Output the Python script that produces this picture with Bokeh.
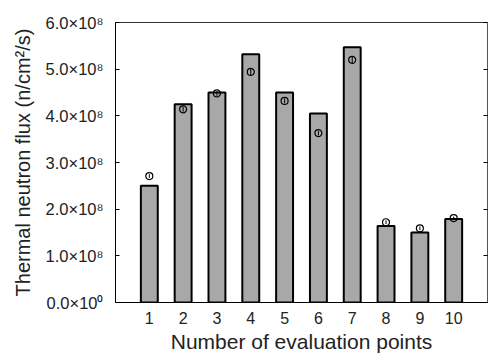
from bokeh.plotting import figure
from bokeh.models import FixedTicker, LinearAxis, Range1d
from bokeh.embed import file_html
from bokeh.resources import INLINE

# ---- data ----
points = [1, 2, 3, 4, 5, 6, 7, 8, 9, 10]
simulated = [2.50e8, 4.25e8, 4.50e8, 5.32e8, 4.50e8, 4.05e8, 5.47e8, 1.64e8, 1.50e8, 1.79e8]
measured = [2.71e8, 4.14e8, 4.48e8, 4.94e8, 4.32e8, 3.63e8, 5.20e8, 1.72e8, 1.59e8, 1.81e8]
measured_err = [0.04e8, 0.05e8, 0.05e8, 0.07e8, 0.05e8, 0.05e8, 0.07e8, 0.04e8, 0.04e8, 0.03e8]
y_ticks = [0, 1e8, 2e8, 3e8, 4e8, 5e8, 6e8]
y_tick_labels = ["0.0×10⁰", "1.0×10⁸", "2.0×10⁸", "3.0×10⁸", "4.0×10⁸", "5.0×10⁸", "6.0×10⁸"]

FONT = "Liberation Sans"

p = figure(width=488, height=356, output_backend="svg", toolbar_location=None,
           x_range=Range1d(0, 11), y_range=Range1d(0, 6e8))
p.min_border_left = 115
p.min_border_right = 1
p.min_border_top = 22
p.min_border_bottom = 54
p.grid.visible = False
p.outline_line_color = "#333333"
p.outline_line_width = 1
p.background_fill_color = "white"
p.border_fill_color = "white"

p.vbar(x=points, top=simulated, width=0.5, bottom=0,
       fill_color="#a8a8a8", line_color="black", line_width=2)

lo = [m - e for m, e in zip(measured, measured_err)]
hi = [m + e for m, e in zip(measured, measured_err)]
p.segment(x0=points, x1=points, y0=lo, y1=hi, line_color="black", line_width=1)
p.scatter(x=points, y=measured, marker="circle", size=7,
          fill_color=None, line_color="black", line_width=1.2)

# x axis
xa = p.xaxis[0]
xa.ticker = FixedTicker(ticks=points)
xa.major_tick_in = 0
xa.major_tick_out = 0
xa.minor_tick_in = 0
xa.minor_tick_out = 0
xa.axis_line_color = "black"
xa.major_label_text_font = FONT
xa.major_label_text_font_size = "16px"
xa.major_label_text_color = "#222222"
xa.major_label_standoff = 9
xa.axis_label = "Number of evaluation points"
xa.axis_label_text_font = FONT
xa.axis_label_text_font_size = "21px"
xa.axis_label_text_font_style = "normal"
xa.axis_label_text_color = "#222222"
xa.axis_label_standoff = 3

# y axis
ya = p.yaxis[0]
ya.ticker = FixedTicker(ticks=y_ticks)
ya.major_label_overrides = {t: s for t, s in zip(y_ticks, y_tick_labels)}
ya.major_tick_in = 4
ya.major_tick_out = 0
ya.minor_tick_in = 0
ya.minor_tick_out = 0
ya.axis_line_color = "black"
ya.major_label_text_font = FONT
ya.major_label_text_font_size = "16.5px"
ya.major_label_text_color = "#222222"
ya.major_label_standoff = 12
ya.axis_label = "Thermal neutron flux (n/cm²/s)"
ya.axis_label_text_font = FONT
ya.axis_label_text_font_size = "20px"
ya.axis_label_text_font_style = "normal"
ya.axis_label_text_color = "#222222"
ya.axis_label_standoff = 9

# right axis with inward ticks only
ra = LinearAxis(ticker=FixedTicker(ticks=y_ticks))
ra.major_label_overrides = {t: "" for t in y_ticks}
ra.major_tick_in = 4
ra.major_tick_out = 0
ra.minor_tick_in = 0
ra.minor_tick_out = 0
ra.major_label_standoff = 0
ra.axis_line_color = "#555555"
ra.axis_line_width = 1
p.add_layout(ra, "right")

open("out.html", "w").write(file_html(p, INLINE))
